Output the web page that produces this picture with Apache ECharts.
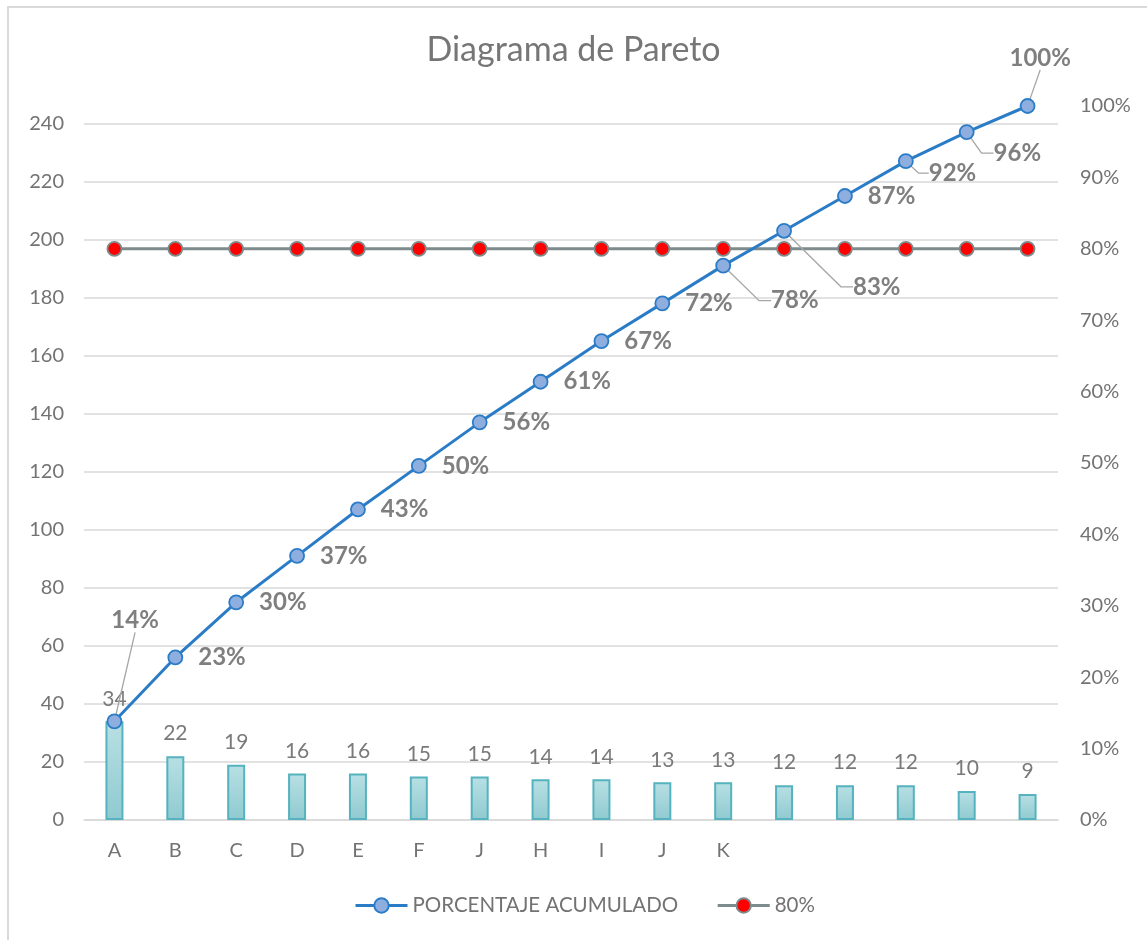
<!DOCTYPE html>
<html>
<head>
<meta charset="utf-8">
<script src="https://cdn.jsdelivr.net/npm/echarts@6/dist/echarts.min.js"></script>
<style>
  html, body { margin: 0; padding: 0; background: #fff; }
  #chart { width: 1147px; height: 940px; }
</style>
</head>
<body>
<div id="chart"></div>
<script>
// ---- data ----
const categories = ['A', 'B', 'C', 'D', 'E', 'F', 'J', 'H', 'I', 'J', 'K', '', '', '', '', ''];
const counts = [34, 22, 19, 16, 16, 15, 15, 14, 14, 13, 13, 12, 12, 12, 10, 9];
const cumulative = [34, 56, 75, 91, 107, 122, 137, 151, 165, 178, 191, 203, 215, 227, 237, 246];
const threshold = [80, 80, 80, 80, 80, 80, 80, 80, 80, 80, 80, 80, 80, 80, 80, 80];
const leftTicks = { min: 0, interval: 20 };
const rightTicks = { min: 0, max: 100, interval: 10 };
const seriesNames = ['PORCENTAJE ACUMULADO', '80%'];
const total = cumulative[cumulative.length - 1];

// ---- label placement tweaks (style, not data) ----
const labelShift = {
  0: { dx: -26, dy: -101, line: 0 },
  10: { dx: 25, dy: 35, line: 12 },
  11: { dx: 46, dy: 56, line: 12 },
  13: { dx: 0, dy: 12, line: 10 },
  14: { dx: 4, dy: 21, line: 12 },
  15: { dx: -41, dy: -48, line: 0 }
};

const FONT = 'Lato, "Open Sans", sans-serif';
const chart = echarts.init(document.getElementById('chart'), null, { renderer: 'canvas' });

const lineData = cumulative.map((v, i) => {
  const s = labelShift[i];
  if (s) {
    return { value: v, labelLine: { show: true, length2: s.line, lineStyle: { color: '#a6a6a6', width: 1.3 } } };
  }
  return v;
});

chart.setOption({
  backgroundColor: '#ffffff',
  animation: false,
  graphic: [{
    type: 'rect', silent: true, z: -10,
    shape: { x: 8, y: 7, width: 1400, height: 1200 },
    style: { fill: 'none', stroke: '#d9d9d9', lineWidth: 2 }
  }],
  title: {
    text: 'Diagrama de Pareto',
    left: 'center', top: 33, padding: 0,
    textStyle: { fontFamily: FONT, fontSize: 34, fontWeight: 'normal', color: '#767676' }
  },
  legend: {
    data: seriesNames,
    bottom: 19, left: 349,
    itemWidth: 52, itemHeight: 18, itemGap: 38,
    lineStyle: { width: 3 },
    textStyle: { fontFamily: FONT, fontSize: 20.5, color: '#737373' }
  },
  grid: { left: 84, right: 89, top: 106, bottom: 120, containLabel: false, outerBoundsMode: 'none' },
  xAxis: {
    type: 'category',
    data: categories,
    boundaryGap: true,
    axisLine: { show: true, lineStyle: { color: '#d9d9d9', width: 1.5 } },
    axisTick: { show: false },
    axisLabel: { fontFamily: FONT, fontSize: 20, color: '#737373', margin: 21, interval: 0 }
  },
  yAxis: [{
    type: 'value',
    min: leftTicks.min, max: total, interval: leftTicks.interval,
    axisLine: { show: false }, axisTick: { show: false },
    splitLine: { show: true, showMaxLine: false, lineStyle: { color: '#d9d9d9', width: 1.5 } },
    axisLabel: {
      fontFamily: FONT, fontSize: 20, color: '#737373', margin: 20, showMaxLabel: false,
      formatter: v => (v % leftTicks.interval === 0 ? String(v) : '')
    }
  }, {
    type: 'value', position: 'right',
    min: rightTicks.min, max: rightTicks.max, interval: rightTicks.interval,
    axisLine: { show: false }, axisTick: { show: false }, splitLine: { show: false },
    axisLabel: { fontFamily: FONT, fontSize: 20, color: '#737373', margin: 22, formatter: '{value}%' }
  }],
  series: [{
    name: 'Frecuencia',
    type: 'bar',
    yAxisIndex: 0,
    data: counts,
    barWidth: 18,
    z: 1,
    itemStyle: {
      color: new echarts.graphic.LinearGradient(0, 0, 0, 1, [
        { offset: 0, color: '#b8e0e4' },
        { offset: 1, color: '#8fcad0' }
      ]),
      borderColor: '#55b3bf', borderWidth: 2
    },
    label: { show: true, position: 'top', distance: 12, fontFamily: FONT, fontSize: 21, color: '#7a7a7a' }
  }, {
    name: seriesNames[0],
    type: 'line',
    yAxisIndex: 0,
    data: lineData,
    z: 5,
    symbol: 'circle', symbolSize: 14,
    lineStyle: { color: '#2b7cc7', width: 3 },
    itemStyle: { color: '#8eaee0', borderColor: '#2b7cc7', borderWidth: 1.8 },
    label: {
      show: true, position: 'right', distance: 15,
      fontFamily: FONT, fontSize: 24, fontWeight: 'bold', color: '#7f7f7f',
      formatter: p => Math.round(p.value / total * 100) + '%'
    },
    labelLine: { show: false },
    labelLayout: p => {
      const s = labelShift[p.dataIndex];
      return s ? { dx: s.dx, dy: s.dy } : {};
    }
  }, {
    name: seriesNames[1],
    type: 'line',
    yAxisIndex: 1,
    data: threshold,
    z: 4,
    symbol: 'circle', symbolSize: 14,
    lineStyle: { color: '#7d8b8c', width: 3 },
    itemStyle: { color: '#ff0000', borderColor: '#7d8b8c', borderWidth: 1.8 }
  }]
});
</script>
</body>
</html>
